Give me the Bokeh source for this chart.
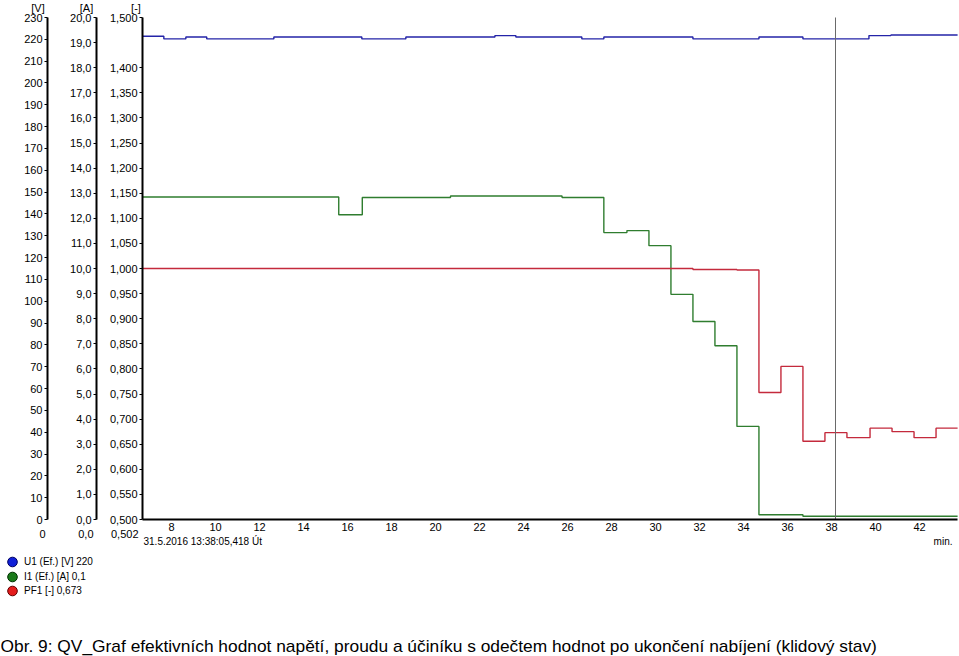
from bokeh.plotting import figure
from bokeh.models import (Range1d, LinearAxis, FixedTicker, CustomJSTickFormatter,
                          Label, Legend, LegendItem)
from bokeh.embed import file_html
from bokeh.resources import INLINE

# ---------------- data (minutes on x) ----------------
time_u = [6.68, 7.65, 8.65, 9.6, 12.65, 16.65, 18.65, 22.7, 23.65, 26.65, 27.65,
          31.7, 34.7, 36.7, 39.7, 40.7, 43.73]
u1 = [221.4, 220.2, 221.1, 220.2, 221.1, 220.2, 221.1, 221.7, 221.1, 220.2, 221.1,
      220.2, 221.1, 220.2, 221.7, 222.0, 222.0]

time_i = [6.68, 15.6, 16.67, 20.68, 25.75, 27.65, 28.7, 29.7, 30.7, 31.7, 32.7,
          33.7, 34.7, 36.7, 43.73]
i1 = [12.85, 12.14, 12.83, 12.89, 12.83, 11.43, 11.51, 10.91, 8.97, 7.89, 6.92,
      3.71, 0.19, 0.13, 0.13]

time_pf = [6.68, 31.7, 33.7, 34.7, 35.7, 36.7, 37.7, 38.7, 39.75, 40.75, 41.75,
           42.75, 43.73]
pf1 = [1.000, 0.998, 0.997, 0.753, 0.805, 0.656, 0.673, 0.663, 0.682, 0.675, 0.663,
       0.682, 0.682]

cursor_time = 38.18
cursor_values = [220, 0.1, 0.673]      # U1, I1, PF1 read at the cursor

x_ticks = [8, 10, 12, 14, 16, 18, 20, 22, 24, 26, 28, 30, 32, 34, 36, 38, 40, 42]
v_ticks = [0, 10, 20, 30, 40, 50, 60, 70, 80, 90, 100, 110, 120, 130, 140, 150,
           160, 170, 180, 190, 200, 210, 220, 230]
a_ticks = [0, 1, 2, 3, 4, 5, 6, 7, 8, 9, 10, 11, 12, 13, 14, 15, 16, 17, 18, 19, 20]
pf_ticks = [0.5, 0.55, 0.6, 0.65, 0.7, 0.75, 0.8, 0.85, 0.9, 0.95, 1.0, 1.05, 1.1,
            1.15, 1.2, 1.25, 1.3, 1.35, 1.4, 1.5]

legend_labels = ["U1 (Ef.) [V] 220", "I1 (Ef.) [A] 0,1", "PF1 [-] 0,673"]
unit_labels = ["[V]", "[A]", "[-]"]
bottom_values = ["0", "0,0", "0,502"]
date_text = "31.5.2016 13:38:05,418 Út"
x_unit = "min."
caption = ("Obr. 9: QV_Graf efektivních hodnot napětí, proudu a účiníku s odečtem "
           "hodnot po ukončení nabíjení (klidový stav)")

# ---------------- layout constants (pixels) ----------------
W, H = 959, 656
PX_LEFT, PX_RIGHT = 142, 957          # plot area left / right edge
PX_TOP, PX_BOTTOM = 17, 519           # plot area top / bottom edge
PX_PER_MIN = 22.0
T_LEFT = 6.68                          # time at plot area left edge
V_AXIS_PX, A_AXIS_PX = 47, 96          # positions of the outer axes
LEGEND_ROWS_PX = [561, 576, 590]

x0 = T_LEFT - PX_LEFT / PX_PER_MIN
x1 = T_LEFT + (W - PX_LEFT) / PX_PER_MIN
t_end = T_LEFT + (PX_RIGHT - PX_LEFT) / PX_PER_MIN


def yr(lo, hi):
    k = (hi - lo) / (PX_BOTTOM - PX_TOP)
    return Range1d(lo - (H - PX_BOTTOM) * k, hi + PX_TOP * k)


FONT = "Liberation Sans"
C_U, C_I, C_PF = "#2424a8", "#2f7d2f", "#c42a3c"

p = figure(width=W, height=H, output_backend="svg", toolbar_location=None,
           x_range=Range1d(x0, x1), y_range=yr(0.5, 1.5),
           min_border_left=0, min_border_right=0, min_border_top=0,
           min_border_bottom=0, title=None)
p.extra_y_ranges = {"A": yr(0, 20), "V": yr(0, 230)}
p.grid.visible = False
p.outline_line_color = None
p.background_fill_color = "white"
p.border_fill_color = "white"


def style_axis(ax, ticks, code, bounds, loc):
    ax.ticker = FixedTicker(ticks=ticks)
    ax.formatter = CustomJSTickFormatter(code=code)
    ax.bounds = bounds
    ax.fixed_location = loc
    ax.major_label_text_font = FONT
    ax.major_label_text_font_size = "11px"
    ax.major_label_text_color = "black"
    ax.major_tick_out = 3
    ax.major_tick_in = 0
    ax.minor_tick_out = 0
    ax.minor_tick_in = 0
    ax.major_tick_line_color = "black"
    ax.axis_line_color = "black"
    ax.axis_line_width = 2
    ax.major_label_standoff = 2


pf_axis = p.yaxis[0]
style_axis(pf_axis, pf_ticks, "return tick.toFixed(3).replace('.', ',')",
           (0.5, 1.5), T_LEFT)

a_axis = LinearAxis(y_range_name="A")
style_axis(a_axis, a_ticks, "return tick.toFixed(1).replace('.', ',')",
           (0, 20), x0 + A_AXIS_PX / PX_PER_MIN)
p.add_layout(a_axis, "left")

v_axis = LinearAxis(y_range_name="V")
style_axis(v_axis, v_ticks, "return tick.toFixed(0)",
           (0, 230), x0 + V_AXIS_PX / PX_PER_MIN)
p.add_layout(v_axis, "left")

xa = p.xaxis[0]
style_axis(xa, x_ticks, "return tick.toFixed(0)", (T_LEFT, t_end), 0.5)
xa.major_tick_out = 0
xa.major_label_standoff = 3

p.step(time_u, u1, mode="after", y_range_name="V", line_color=C_U, line_width=1.4)
p.step(time_i, i1, mode="after", y_range_name="A", line_color=C_I, line_width=1.4)
p.step(time_pf, pf1, mode="after", line_color=C_PF, line_width=1.4)

# cursor line
p.segment(x0=[cursor_time], y0=[0.5], x1=[cursor_time], y1=[1.5],
          line_color="#6a6a6a", line_width=1)

# legend: cursor readouts, shown as markers only in the legend
r_u = p.scatter(x=[cursor_time], y=[cursor_values[0]], y_range_name="V", marker="circle",
                size=10, fill_color="#1020d8", line_color="#000060", visible=False)
r_i = p.scatter(x=[cursor_time], y=[cursor_values[1]], y_range_name="A", marker="circle",
                size=10, fill_color="#1a7a1a", line_color="#003000", visible=False)
r_pf = p.scatter(x=[cursor_time], y=[cursor_values[2]], marker="circle",
                 size=10, fill_color="#e41c1c", line_color="#600000", visible=False)

GLYPH_W, GLYPH_H = 24, 25
for lbl, r, cy in zip(legend_labels, [r_u, r_i, r_pf], LEGEND_ROWS_PX):
    lg = Legend(items=[LegendItem(label=lbl, renderers=[r])],
                location=(0, H - (cy + GLYPH_H / 2)), orientation="vertical",
                glyph_width=GLYPH_W, glyph_height=GLYPH_H, spacing=0, padding=0,
                margin=0, label_standoff=0, label_height=GLYPH_H, label_text_font=FONT,
                label_text_font_size="10px", label_text_color="black",
                border_line_color=None, background_fill_alpha=0,
                inactive_fill_alpha=0, click_policy="none")
    p.add_layout(lg, "center")


def lab(text, x, y_img, align="left", baseline="middle", size="11px"):
    p.add_layout(Label(x=x, y=H - y_img, x_units="screen", y_units="screen", text=text,
                       text_align=align, text_baseline=baseline, text_font=FONT,
                       text_font_size=size, text_color="black"))


for t, xx in zip(unit_labels, [37.5, 86, 135.5]):
    lab(t, xx, 1.5, align="center", baseline="top")
for t, xx in zip(bottom_values, [45, 93, 138]):
    lab(t, xx, 533, align="right")
lab(date_text, 143, 541, size="10px")
lab(x_unit, 952, 541, align="right", size="10px")
lab(caption, 0, 645, baseline="alphabetic", size="17.35px")

open("out.html", "w").write(file_html(p, INLINE))
